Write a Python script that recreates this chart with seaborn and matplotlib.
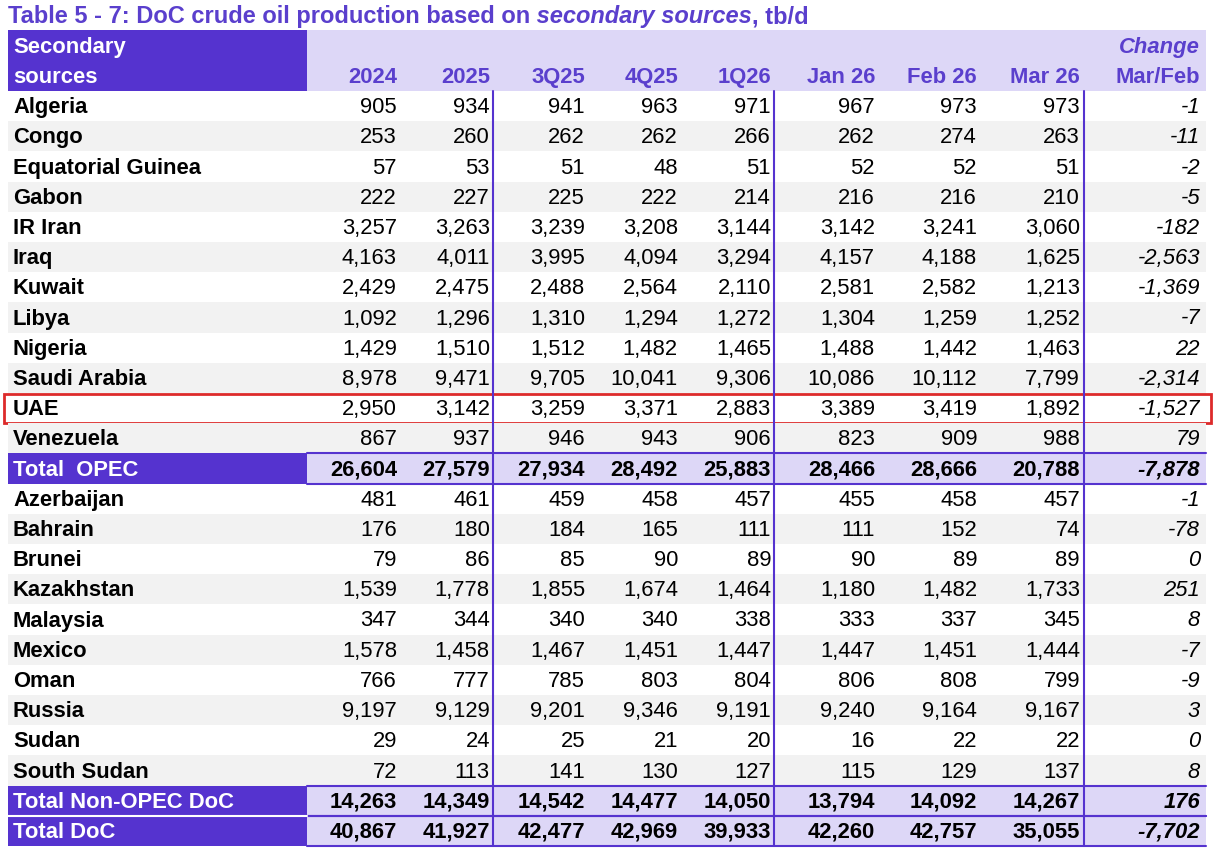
import matplotlib
matplotlib.use('Agg')
import matplotlib.pyplot as plt
from matplotlib.patches import Rectangle
import seaborn as sns

# ---- table data (tb/d) ----
periods = ['2024', '2025', '3Q25', '4Q25', '1Q26', 'Jan 26', 'Feb 26', 'Mar 26']

opec_names = ['Algeria', 'Congo', 'Equatorial Guinea', 'Gabon', 'IR Iran', 'Iraq',
              'Kuwait', 'Libya', 'Nigeria', 'Saudi Arabia', 'UAE', 'Venezuela']
opec_values = [
    [905, 934, 941, 963, 971, 967, 973, 973],
    [253, 260, 262, 262, 266, 262, 274, 263],
    [57, 53, 51, 48, 51, 52, 52, 51],
    [222, 227, 225, 222, 214, 216, 216, 210],
    [3257, 3263, 3239, 3208, 3144, 3142, 3241, 3060],
    [4163, 4011, 3995, 4094, 3294, 4157, 4188, 1625],
    [2429, 2475, 2488, 2564, 2110, 2581, 2582, 1213],
    [1092, 1296, 1310, 1294, 1272, 1304, 1259, 1252],
    [1429, 1510, 1512, 1482, 1465, 1488, 1442, 1463],
    [8978, 9471, 9705, 10041, 9306, 10086, 10112, 7799],
    [2950, 3142, 3259, 3371, 2883, 3389, 3419, 1892],
    [867, 937, 946, 943, 906, 823, 909, 988],
]
opec_change = [-1, -11, -2, -5, -182, -2563, -1369, -7, 22, -2314, -1527, 79]
opec_total = [26604, 27579, 27934, 28492, 25883, 28466, 28666, 20788]
opec_total_change = -7878

nonopec_names = ['Azerbaijan', 'Bahrain', 'Brunei', 'Kazakhstan', 'Malaysia', 'Mexico',
                 'Oman', 'Russia', 'Sudan', 'South Sudan']
nonopec_values = [
    [481, 461, 459, 458, 457, 455, 458, 457],
    [176, 180, 184, 165, 111, 111, 152, 74],
    [79, 86, 85, 90, 89, 90, 89, 89],
    [1539, 1778, 1855, 1674, 1464, 1180, 1482, 1733],
    [347, 344, 340, 340, 338, 333, 337, 345],
    [1578, 1458, 1467, 1451, 1447, 1447, 1451, 1444],
    [766, 777, 785, 803, 804, 806, 808, 799],
    [9197, 9129, 9201, 9346, 9191, 9240, 9164, 9167],
    [29, 24, 25, 21, 20, 16, 22, 22],
    [72, 113, 141, 130, 127, 115, 129, 137],
]
nonopec_change = [-1, -78, 0, 251, 8, -7, -9, 3, 0, 8]
nonopec_total = [14263, 14349, 14542, 14477, 14050, 13794, 14092, 14267]
nonopec_total_change = 176
doc_total = [40867, 41927, 42477, 42969, 39933, 42260, 42757, 35055]
doc_total_change = -7702

highlight = 'UAE'

# ---- style ----
PURPLE = '#5533cf'
HEAD_TXT = '#5a3fcd'
LAVENDER = '#ddd7f7'
GRAY = '#f2f2f2'
RED = '#dd2a2a'
FS = 15.8
TITLE_FS = 17
DY = 1.5  # nudge text down a bit to sit like the original

sns.set_theme(style='white')
plt.rcParams['font.family'] = ['Liberation Sans', 'DejaVu Sans']

rows = []
for i, n in enumerate(opec_names):
    rows.append((n, opec_values[i], opec_change[i], 'row'))
rows.append(('Total  OPEC', opec_total, opec_total_change, 'total'))
for i, n in enumerate(nonopec_names):
    rows.append((n, nonopec_values[i], nonopec_change[i], 'row'))
rows.append(('Total Non-OPEC DoC', nonopec_total, nonopec_total_change, 'total'))
rows.append(('Total DoC', doc_total, doc_total_change, 'total'))

X_LEFT, X_LAB, X_RIGHT = 8, 307, 1206
col_right = [397, 490, 585, 678, 771, 875, 977, 1080, 1200]
vlines = [493, 774, 1084]
HEAD_TOP, HEAD_BOT = 30, 91
ROW_H = (846 - HEAD_BOT) / len(rows)

fig = plt.figure(figsize=(12.17, 8.5), dpi=100)
ax = fig.add_axes([0, 0, 1, 1])
ax.set_xlim(0, 1217)
ax.set_ylim(850, 0)
ax.axis('off')

# title with mixed italic
renderer = fig.canvas.get_renderer()
x = X_LEFT
for part, style in [('Table 5 - 7: DoC crude oil production based on', 'normal'),
                    (' secondary sources', 'italic'), (', tb/d', 'normal')]:
    t = ax.text(x, 15 + DY, part, fontsize=TITLE_FS, fontweight='bold', fontstyle=style,
                color=HEAD_TXT, ha='left', va='center')
    bb = t.get_window_extent(renderer=renderer)
    x += bb.width * 1217 / fig.bbox.width

# header
ax.add_patch(Rectangle((X_LEFT, HEAD_TOP), X_LAB - X_LEFT, HEAD_BOT - HEAD_TOP, color=PURPLE, lw=0))
ax.add_patch(Rectangle((X_LAB, HEAD_TOP), X_RIGHT - X_LAB, HEAD_BOT - HEAD_TOP, color=LAVENDER, lw=0))
ax.text(13, 46 + DY, 'Secondary', fontsize=FS, fontweight='bold', color='white', va='center')
ax.text(13, 76 + DY, 'sources', fontsize=FS, fontweight='bold', color='white', va='center')
for xr, p in zip(col_right, periods):
    ax.text(xr, 76 + DY, p, fontsize=FS, fontweight='bold', color=HEAD_TXT, ha='right', va='center')
ax.text(col_right[-1], 46 + DY, 'Change', fontsize=FS, fontweight='bold', fontstyle='italic',
        color=HEAD_TXT, ha='right', va='center')
ax.text(col_right[-1], 76 + DY, 'Mar/Feb', fontsize=FS, fontweight='bold', color=HEAD_TXT,
        ha='right', va='center')

# body
shade = 0
for r, (name, vals, chg, kind) in enumerate(rows):
    y0 = HEAD_BOT + r * ROW_H
    yc = y0 + ROW_H / 2 + DY
    if kind == 'total':
        ax.add_patch(Rectangle((X_LEFT, y0), X_LAB - X_LEFT, ROW_H, color=PURPLE, lw=0))
        ax.add_patch(Rectangle((X_LAB, y0), X_RIGHT - X_LAB, ROW_H, color=LAVENDER, lw=0))
        ax.plot([X_LAB, X_RIGHT], [y0, y0], color=PURPLE, lw=1.5)
        ax.plot([X_LAB, X_RIGHT], [y0 + ROW_H, y0 + ROW_H], color=PURPLE, lw=1.5)
        if rows[r - 1][3] == 'total':
            ax.plot([X_LEFT, X_LAB], [y0, y0], color='white', lw=1.5)
        ax.text(13, yc, name, fontsize=FS, fontweight='bold', color='white', va='center')
        for xr, v in zip(col_right, vals):
            ax.text(xr, yc, f'{v:,}', fontsize=FS, fontweight='bold', color='black',
                    ha='right', va='center')
        ax.text(col_right[-1], yc, f'{chg:,}', fontsize=FS, fontweight='bold',
                fontstyle='italic', color='black', ha='right', va='center')
        shade = 0
    else:
        if shade % 2 == 1:
            ax.add_patch(Rectangle((X_LEFT, y0), X_RIGHT - X_LEFT, ROW_H, color=GRAY, lw=0))
        shade += 1
        ax.text(13, yc, name, fontsize=FS, fontweight='bold', color='black', va='center')
        for xr, v in zip(col_right, vals):
            ax.text(xr, yc, f'{v:,}', fontsize=FS, color='black', ha='right', va='center')
        ax.text(col_right[-1], yc, f'{chg:,}', fontsize=FS, fontstyle='italic',
                color='black', ha='right', va='center')
    if name == highlight:
        ax.add_patch(Rectangle((4, y0 + 1), 1207, ROW_H - 1, fill=False, ec=RED, lw=2))

for xv in vlines:
    ax.plot([xv, xv], [HEAD_BOT, HEAD_BOT + len(rows) * ROW_H], color=PURPLE, lw=1.5)

fig.savefig('out.png', dpi=100)
